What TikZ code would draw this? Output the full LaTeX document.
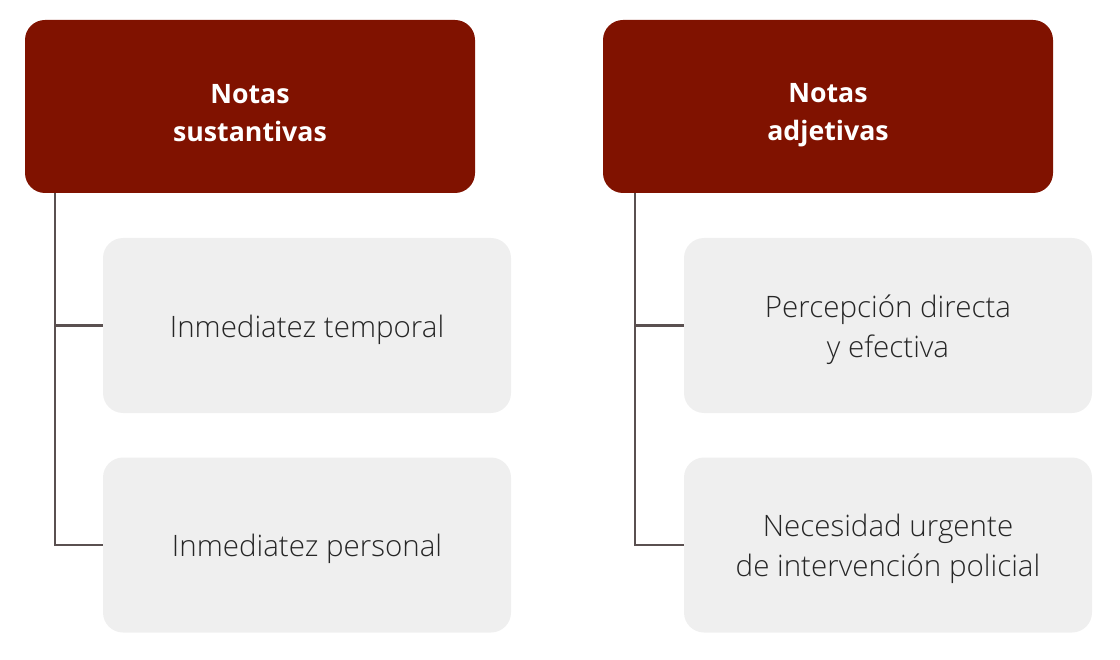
\documentclass[tikz,border=0pt]{standalone}
\usepackage{fontspec}
\setmainfont{Open Sans}
\newfontfamily\lightfont{Open Sans Light}
\usetikzlibrary{positioning}
\definecolor{notared}{HTML}{801200}
\definecolor{notagray}{HTML}{EFEFEF}
\definecolor{notaline}{HTML}{5A5050}

\begin{document}
\begin{tikzpicture}[
  head/.style={fill=notared,rounded corners=0.5cm,minimum width=11.25cm,
    minimum height=4.325cm},
  headtext/.style={align=center,text=white,
    font=\bfseries\fontsize{19}{27}\selectfont},
  item/.style={fill=notagray,rounded corners=0.5cm,minimum width=10.2cm,
    minimum height=4.375cm},
  itemtext/.style={align=center,text=black!85,
    font=\lightfont\fontsize{21}{28.5}\selectfont},
  link/.style={draw=notaline,line width=1.5pt}]
\useasboundingbox (0,0) rectangle (28,16.475);

\node[head] (H1) at (6.25,13.8125) {};
\node[item] (A1) at (7.675,8.3375) {};
\node[item] (A2) at (7.675,2.85) {};

\node[head] (H2) at (20.7,13.8125) {};
\node[item] (B1) at (22.2,8.3375) {};
\node[item] (B2) at (22.2,2.85) {};

% texts, set a little below the box centres
\node[headtext] (H1t) at ([yshift=-0.175cm]H1.center) {Notas\\sustantivas};
\node[headtext] (H2t) at ([yshift=-0.225cm]H2.center) {Notas\\adjetivas};
\node[itemtext] (A1t) at ([yshift=-0.1cm]A1.center) {Inmediatez temporal};
\node[itemtext] (A2t) at ([yshift=-0.1cm]A2.center) {Inmediatez personal};
\node[itemtext] (B1t) at ([yshift=-0.1cm]B1.center) {Percepción directa\\y efectiva};
\node[itemtext] (B2t) at ([yshift=-0.1cm]B2.center) {Necesidad urgente\\de intervención policial};

\path (H1.south west) ++(0.75,0) coordinate (T1);
\path (H2.south west) ++(0.8,0) coordinate (T2);

\draw[link] (T1) |- (A2.west);
\draw[link] (T1 |- A1.west) -- (A1.west);
\draw[link] (T2) |- (B2.west);
\draw[link] (T2 |- B1.west) -- (B1.west);
\end{tikzpicture}
\end{document}
